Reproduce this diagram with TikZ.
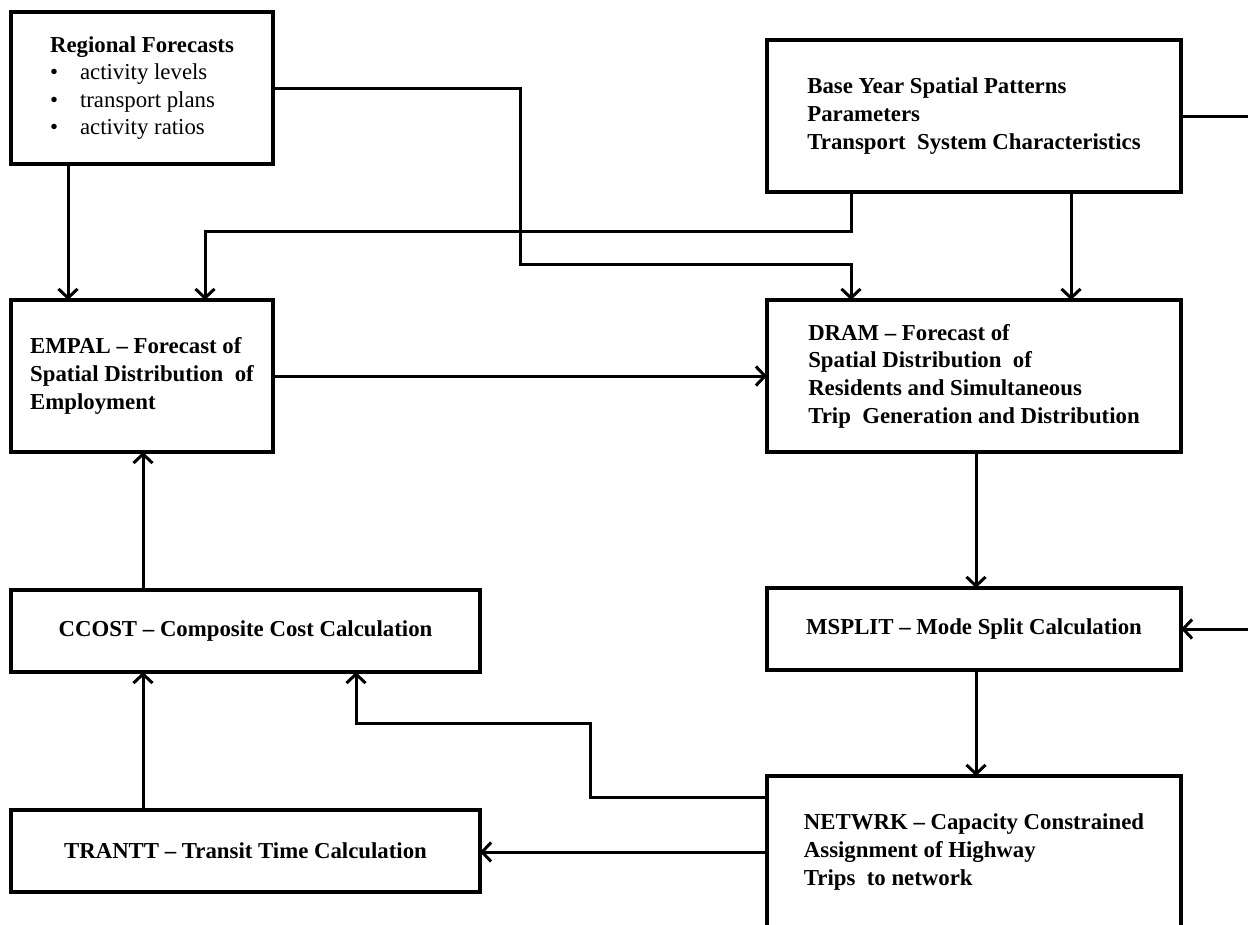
\documentclass[tikz,border=0pt]{standalone}
\usepackage{fontspec}
\setmainfont{Liberation Serif}
\usetikzlibrary{arrows.meta}
\begin{document}
\begin{tikzpicture}[x=1pt,y=-1pt,
  box/.style={draw, line width=4pt, align=left, inner sep=0pt, outer sep=0pt, anchor=north west,
    font=\fontsize{22.8}{27.6}\selectfont\bfseries},
  conn/.style={line width=3pt, -{Straight Barb[length=9pt,width=19pt]}}]
\useasboundingbox (0,0) rectangle (1248,924);
\fill[white] (0,0) rectangle (1248,924);
\clip (0,0) rectangle (1248,924);

\node[box, minimum width=262pt, minimum height=152pt] (reg) at (11,12)
  {Regional Forecasts\\
   {\mdseries\makebox[30pt][l]{\textbullet}activity\ levels}\\
   {\mdseries\makebox[30pt][l]{\textbullet}transport plans}\\
   {\mdseries\makebox[30pt][l]{\textbullet}activity\ ratios}};
\node[box, minimum width=414pt, minimum height=152pt] (base) at (767,40)
  {Base Year Spatial Patterns\\Parameters\\Transport\ \ System Characteristics};
\node[box, minimum width=262pt, minimum height=152pt] (empal) at (11,300)
  {EMPAL – Forecast of\\Spatial Distribution\ \ of\\Employment};
\node[box, minimum width=414pt, minimum height=152pt] (dram) at (767,300)
  {DRAM – Forecast of\\Spatial Distribution\ \ of\\Residents and Simultaneous\\Trip\ \ Generation and Distribution};
\node[box, minimum width=469pt, minimum height=82pt] (ccost) at (11,590)
  {CCOST – Composite Cost Calculation};
\node[box, minimum width=414pt, minimum height=82pt] (msplit) at (767,588)
  {MSPLIT – Mode Split Calculation};
\node[box, minimum width=469pt, minimum height=82pt] (trantt) at (11,810)
  {TRANTT – Transit Time Calculation};
\node[box, minimum width=414pt, minimum height=152pt] (netwrk) at (767,776)
  {NETWRK – Capacity Constrained\\Assignment of Highway\\Trips\ \ to network};

\draw[conn] ([xshift=57pt]reg.south west) -- ([xshift=57pt]empal.north west);
\draw[conn] (reg.east) -| (520,264) -| ([xshift=84pt]dram.north west);
\draw[conn] ([xshift=84pt]base.south west) |- (205,231) -| ([xshift=194pt]empal.north west);
\draw[conn] ([xshift=304pt]base.south west) -- ([xshift=304pt]dram.north west);
\draw[conn] (base.east) -- ++(90,0) |- (msplit.east);
\draw[conn] (empal.east) -- (dram.west);
\draw[conn] ([xshift=209pt]dram.south west) -- ([xshift=209pt]msplit.north west);
\draw[conn] ([xshift=209pt]msplit.south west) -- ([xshift=209pt]netwrk.north west);
\draw[conn] (netwrk.west) -- (netwrk.west -| trantt.east);
\draw[conn] ([yshift=-21pt]netwrk.north west) -| (590,723) -| ([xshift=345pt]ccost.south west);
\draw[conn] ([xshift=132pt]trantt.north west) -- ([xshift=132pt]ccost.south west);
\draw[conn] ([xshift=132pt]ccost.north west) -- ([xshift=132pt]empal.south west);
\end{tikzpicture}
\end{document}
